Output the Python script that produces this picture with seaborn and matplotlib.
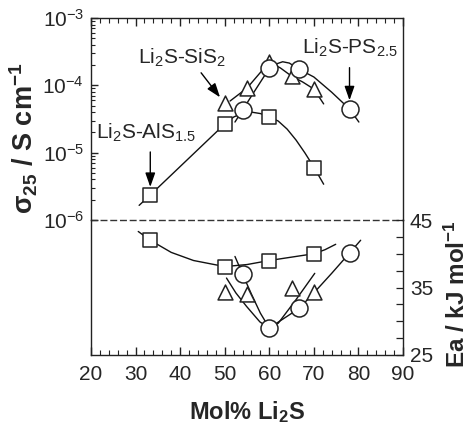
import numpy as np
import pandas as pd
import matplotlib
matplotlib.use("Agg")
import matplotlib.pyplot as plt
import seaborn as sns
from matplotlib import font_manager as fm
from matplotlib.ticker import FixedLocator, MultipleLocator, LogLocator, NullFormatter

# ---------------- data ----------------
x_al = [33.3, 50, 60, 70]
sigma_al = [2.35e-6, 2.66e-5, 3.4e-5, 6.0e-6]
ea_al = [42.0, 38.1, 39.0, 40.0]

x_si = [50, 55, 60, 65, 70]
sigma_si = [5.4e-5, 9.0e-5, 2.2e-4, 1.37e-4, 8.7e-5]
x_si_ea = [50, 55, 65, 70]
ea_si = [34.4, 34.0, 34.9, 34.4]

x_ps = [54, 60, 66.7, 78]
sigma_ps = [4.3e-5, 1.79e-4, 1.73e-4, 4.4e-5]
ea_ps = [37.0, 28.95, 31.9, 40.1]

# hand-drawn guide curves
al_sig_gx = [30.8, 33.3, 50, 52, 54, 56, 58, 60, 62, 64, 66, 68, 70, 72.2]
al_sig_gy = [1.65e-6, 2.35e-6, 2.66e-5, 3.38e-5, 3.87e-5, 4.0e-5, 3.81e-5, 3.4e-5,
             2.95e-5, 2.24e-5, 1.54e-5, 9.9e-6, 6.1e-6, 3.4e-6]
si_sig_gx = [51.2, 55, 57.5, 60, 62.5, 65, 67.5, 70, 72.2]
si_sig_gy = [5.85e-5, 9.1e-5, 1.42e-4, 2.22e-4, 1.81e-4, 1.37e-4, 1.12e-4, 8.8e-5, 5.3e-5]
ps_sig_gx = [52.3, 54, 57, 60, 61.5, 63, 64.5, 66.7, 70, 74, 78, 80.1]
ps_sig_gy = [2.85e-5, 4.3e-5, 8.8e-5, 1.79e-4, 2.07e-4, 2.24e-4, 2.14e-4, 1.73e-4,
             1.33e-4, 7.9e-5, 4.45e-5, 2.85e-5]

al_ea_gx = [30.6, 33.3, 38, 43, 50, 55, 60, 65, 70, 72.5, 74.9]
al_ea_gy = [43.3, 42.0, 40.2, 39.0, 38.1, 38.4, 39.0, 39.5, 40.0, 40.6, 41.4]
si_ea_gx = [50.4, 52.5, 54.9, 57.9, 60, 62, 66, 70.2]
si_ea_gy = [36.4, 34.2, 32.2, 29.9, 29.0, 29.7, 33.2, 37.1]
ps_ea_gx = [52.3, 54, 56, 58, 60, 63, 66.7, 70, 74, 78, 80.5]
ps_ea_gy = [39.6, 37.0, 34.0, 31.2, 29.0, 30.3, 31.9, 34.2, 37.1, 40.1, 42.0]

x_ticks = [20, 30, 40, 50, 60, 70, 80, 90]
x_tick_labels = ["20", "30", "40", "50", "60", "70", "80", "90"]
sig_ticks = [1e-6, 1e-5, 1e-4, 1e-3]
sig_tick_labels = ["10$^{-6}$", "10$^{-5}$", "10$^{-4}$", "10$^{-3}$"]
ea_ticks = [25, 35, 45]
ea_tick_labels = ["25", "35", "45"]

label_al = "Li$_2$S-AlS$_{1.5}$"
label_si = "Li$_2$S-SiS$_2$"
label_ps = "Li$_2$S-PS$_{2.5}$"
xlabel = "Mol% Li$_\\mathbf{2}$S"
ylabel_left = "σ$_\\mathbf{25}$ / S cm$^\\mathbf{-1}$"
ylabel_right = "Ea / kJ mol$^\\mathbf{-1}$"

# ---------------- style ----------------
sns.set_theme(style="ticks")
try:
    fm.findfont("Liberation Sans Narrow", fallback_to_default=False)
    FONT = "Liberation Sans Narrow"
    TICK_FS, ANN_FS = 17, 17
except Exception:
    FONT = "Liberation Sans"
    TICK_FS, ANN_FS = 15, 15
plt.rcParams["font.family"] = [FONT, "DejaVu Sans"]
plt.rcParams["mathtext.fontset"] = "custom"
plt.rcParams["mathtext.rm"] = FONT
plt.rcParams["mathtext.it"] = FONT + ":italic"
plt.rcParams["mathtext.bf"] = "Liberation Sans:bold"
plt.rcParams["axes.linewidth"] = 1.0

W, H = 469, 434
fig = plt.figure(figsize=(W / 100, H / 100), dpi=100)
fig.patch.set_facecolor("white")
L, R = 91 / W, 403 / W
ax_top = fig.add_axes([L, 1 - 220 / H, R - L, (220 - 18) / H])
ax_bot = fig.add_axes([L, 1 - 355 / H, R - L, (355 - 220) / H])
for ax in (ax_top, ax_bot):
    ax.patch.set_visible(False)
    for s in ax.spines.values():
        s.set_color("#222222")
        s.set_linewidth(1.0)

LINE = dict(color="#111111", lw=1.0, sort=False, estimator=None, legend=False)
MK = dict(color="white", edgecolor="#222222", linewidth=1.1, legend=False)

# ---------------- top: conductivity (log) ----------------
ax_top.set_yscale("log")
ax_top.set_xlim(20, 90)
ax_top.set_ylim(1e-6, 1e-3)
sns.lineplot(x=al_sig_gx, y=al_sig_gy, ax=ax_top, zorder=2, **LINE)
sns.lineplot(x=si_sig_gx, y=si_sig_gy, ax=ax_top, zorder=2, **LINE)
sns.lineplot(x=ps_sig_gx, y=ps_sig_gy, ax=ax_top, zorder=2, **LINE)
sns.scatterplot(x=x_al, y=sigma_al, marker="s", s=95, ax=ax_top, zorder=3, **MK)
sns.scatterplot(x=x_si, y=sigma_si, marker="^", s=115, ax=ax_top, zorder=3, **MK)
sns.scatterplot(x=x_ps, y=sigma_ps, marker="o", s=150, ax=ax_top, zorder=4, **MK)

ax_top.spines["bottom"].set_linestyle((0, (4, 3)))
ax_top.spines["bottom"].set_color("#333333")
ax_top.yaxis.set_major_locator(FixedLocator(sig_ticks))
ax_top.set_yticklabels(sig_tick_labels)
ax_top.yaxis.set_minor_locator(LogLocator(base=10, subs=np.arange(2, 10)))
ax_top.yaxis.set_minor_formatter(NullFormatter())
ax_top.tick_params(axis="y", which="both", direction="in", left=True, right=False,
                   labelsize=TICK_FS, pad=5, color="#222222")
ax_top.tick_params(axis="y", which="major", length=5, width=1.0)
ax_top.tick_params(axis="y", which="minor", length=3, width=0.8)
ax_top.xaxis.set_major_locator(FixedLocator(x_ticks))
ax_top.xaxis.set_minor_locator(MultipleLocator(2))
ax_top.tick_params(axis="x", which="both", direction="in", top=True, bottom=False,
                   labeltop=False, labelbottom=False, color="#222222")
ax_top.tick_params(axis="x", which="major", length=6, width=1.0)
ax_top.tick_params(axis="x", which="minor", length=3.5, width=0.8)
ax_top.set_xlabel("")
ax_top.set_ylabel("")

# annotations
ARW = dict(arrowstyle="-|>,head_length=0.85,head_width=0.3", color="black",
           lw=1.0, mutation_scale=10, shrinkA=0)
ax_top.annotate("", xy=(x_al[0], sigma_al[0]), xytext=(0, 31), textcoords="offset points",
                arrowprops=dict(ARW, shrinkB=5.8))
ax_top.annotate(label_al, xy=(x_al[0], sigma_al[0]), xytext=(-3, 45),
                textcoords="offset points", ha="center", va="center", fontsize=ANN_FS)
ax_top.annotate("", xy=(x_si[0], sigma_si[0]), xytext=(-17, 22), textcoords="offset points",
                arrowprops=dict(ARW, shrinkB=5.5))
ax_top.annotate(label_si, xy=(x_si[0], sigma_si[0]), xytext=(-31, 33),
                textcoords="offset points", ha="center", va="center", fontsize=ANN_FS)
ax_top.annotate("", xy=(x_ps[-1], sigma_ps[-1]), xytext=(0, 30), textcoords="offset points",
                arrowprops=dict(ARW, shrinkB=6.5))
ax_top.annotate(label_ps, xy=(x_ps[-1], sigma_ps[-1]), xytext=(0, 44),
                textcoords="offset points", ha="center", va="center", fontsize=ANN_FS)

# ---------------- bottom: activation energy ----------------
ax_bot.set_xlim(20, 90)
ax_bot.set_ylim(25, 45)
sns.lineplot(x=al_ea_gx, y=al_ea_gy, ax=ax_bot, zorder=2, **LINE)
sns.lineplot(x=si_ea_gx, y=si_ea_gy, ax=ax_bot, zorder=2, **LINE)
sns.lineplot(x=ps_ea_gx, y=ps_ea_gy, ax=ax_bot, zorder=2, **LINE)
sns.scatterplot(x=x_al, y=ea_al, marker="s", s=95, ax=ax_bot, zorder=3, **MK)
sns.scatterplot(x=x_si_ea, y=ea_si, marker="^", s=115, ax=ax_bot, zorder=3, **MK)
sns.scatterplot(x=x_ps, y=ea_ps, marker="o", s=150, ax=ax_bot, zorder=4, **MK)

ax_bot.spines["top"].set_visible(False)
ax_bot.xaxis.set_major_locator(FixedLocator(x_ticks))
ax_bot.set_xticklabels(x_tick_labels)
ax_bot.xaxis.set_minor_locator(MultipleLocator(2))
ax_bot.tick_params(axis="x", which="both", direction="in", bottom=True, top=False,
                   labelsize=TICK_FS, pad=7, color="#222222")
ax_bot.tick_params(axis="x", which="major", length=6, width=1.0)
ax_bot.tick_params(axis="x", which="minor", length=3.5, width=0.8)
ax_bot.yaxis.tick_right()
ax_bot.yaxis.set_major_locator(FixedLocator(ea_ticks))
ax_bot.set_yticklabels(ea_tick_labels)
ax_bot.yaxis.set_minor_locator(MultipleLocator(2.5))
ax_bot.tick_params(axis="y", which="both", direction="in", left=False, right=True,
                   labelsize=TICK_FS, pad=5, color="#222222", length=5, width=0.9)
ax_bot.set_xlabel("")
ax_bot.set_ylabel("")

# axis titles
fig.text(247 / W, 1 - 412 / H, xlabel, ha="center", va="center",
         fontsize=17, fontweight="bold", family="Liberation Sans")
fig.text(24 / W, 1 - 138 / H, ylabel_left, ha="center", va="center", rotation=90,
         fontsize=19.5, fontweight="bold", family="Liberation Sans")
fig.text(457 / W, 1 - 294 / H, ylabel_right, ha="center", va="center", rotation=90,
         fontsize=17.5, fontweight="bold", family="Liberation Sans")

fig.savefig("out.png", dpi=100, facecolor="white")
